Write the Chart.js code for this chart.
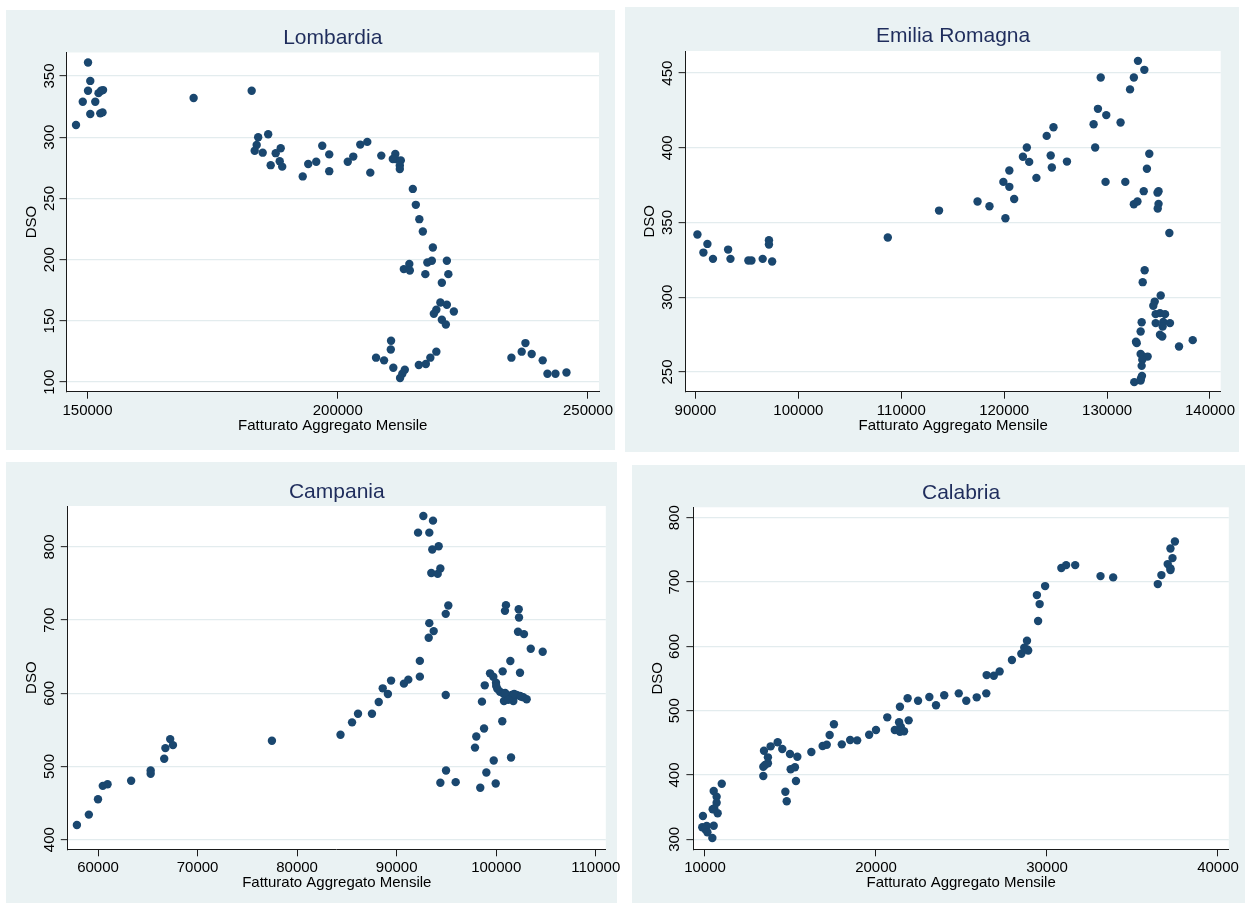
<!DOCTYPE html>
<html>
<head>
<meta charset="utf-8">
<title>DSO vs Fatturato Aggregato Mensile</title>
<script src="https://cdn.jsdelivr.net/npm/chart.js@4/dist/chart.umd.min.js"></script>
<style>
  html, body { margin: 0; padding: 0; background: #ffffff; }
  body { width: 1245px; height: 904px; position: relative; overflow: hidden; }
  canvas { position: absolute; }
</style>
</head>
<body>
<canvas id="lombardia"></canvas>
<canvas id="emilia"></canvas>
<canvas id="campania"></canvas>
<canvas id="calabria"></canvas>
<script>
// ---- Data: [fatturato aggregato mensile, DSO] per region ----
const lombardiaPoints = [
  [147700,310],[149050,329],[150100,361],[150100,338],[150550,346],[150550,319],
  [151550,329],[152200,336],[152700,338],[153100,338.5],[152550,319.5],[153000,320.3],
  [171200,332],[182800,338],
  [184100,300],[186100,302.4],[183800,293.7],[183400,289],[185000,287.4],[186600,277.2],
  [187600,287],[188600,291],[188400,280.4],[188900,276],
  [193000,268],[194100,278.2],[195700,280],[196900,293],[198300,286],[198300,272.3],
  [202000,280],[203100,284.2],[204500,294],[205900,296.2],[206500,271.1],[208700,285],
  [211500,286.3],[211500,282.2],[211000,282.2],[212600,281.1],[212400,277],[212400,274],
  [215000,257.8],[215600,244.8],[216300,233.1],[217000,223],[219000,209.9],
  [213200,192.3],[214300,196.5],[214400,191.2],[217900,197.7],[218800,199.1],[221800,199.1],
  [217500,188.2],[222100,188.2],[220800,181.2],
  [220500,165.1],[221800,163.2],[223200,157.7],[219700,159.1],[219200,155.9],[220800,151],[221600,147.1],
  [210650,133.8],[210600,126.7],[207650,120],[209250,117.8],[211100,111.8],[213400,110.2],
  [212900,106.9],[212450,103.4],[216200,114],[217600,114.8],[218500,120],[219700,124.9],
  [234700,120],[236750,124.9],[237500,131.9],[238750,123],[240950,117.8],[241900,106.9],
  [243500,106.9],[245700,107.9]
];
const lombardiaXTicks = [150000, 200000, 250000];
const lombardiaYTicks = [100, 150, 200, 250, 300, 350];

const emiliaPoints = [
  [90190,342],[90770,329.9],[91160,335.7],[91700,325.7],[93170,331.9],[93400,325.7],
  [95140,324.6],[95440,324.6],[96530,325.7],[97140,338.2],[97140,335.3],[97450,323.9],
  [108690,340],[113670,358],[117410,364.1],[118570,360.9],[119920,377.2],[120120,352.9],
  [120500,384.8],[120500,373.9],[120970,365.8],[121820,394],[122200,400.2],[122430,390.6],
  [123130,379.9],[124130,408],[124520,394.9],[124630,386.8],[124790,413.8],[126100,390.8],
  [128690,415.8],[128840,400.2],[129110,426.1],[129380,447.1],[129850,377.2],[129920,421.9],
  [131310,417],[131770,377.2],[132230,439.1],[132600,447.1],[133000,458.2],[133620,452.2],
  [132600,362.2],[132950,364.1],[133560,371],[133870,386],[134100,396],[134900,370],
  [135000,371],[135000,362.5],[134920,359.4],[136050,343],
  [133650,318.1],[133460,310.1],[135210,301.2],[134630,297.1],[134490,294.3],[134720,288.7],
  [135140,289.4],[135630,288.7],[133360,283.3],[134720,282.7],[135460,283.5],[136110,282.7],
  [135400,280.4],[133260,277.1],[135140,274.9],[135360,273.7],[132810,270.2],[132880,269.3],
  [136990,267],[138320,271.3],[133260,262],[133520,260.3],[133940,260.3],[133420,258.1],
  [133360,254.1],[133390,247.4],[133290,245.6],[132640,243.2],[133260,244.3]
];
const emiliaXTicks = [90000, 100000, 110000, 120000, 130000, 140000];
const emiliaYTicks = [250, 300, 350, 400, 450];

const campaniaPoints = [
  [57880,420.1],[59080,434.2],[60000,455.3],[60480,473.5],[60960,475.8],[63330,480.4],
  [65290,494.5],[65290,490],[66650,510.5],[66770,525.1],[67250,537.4],[67530,529.2],
  [77470,535.2],[84360,543.4],[85520,560.3],[86120,572.1],[87520,572.1],[88200,588.1],
  [88600,606.8],[89120,599.1],[89440,617.4],[90730,613.2],[91170,618.7],[92330,622.8],[92330,644.3],
  [92680,842.3],[93650,836],[92150,819.6],[93280,819.6],[94220,801],[93580,796.5],
  [94390,770.5],[93480,764.5],[94120,763.2],[95190,720.1],[94930,708.6],[93280,695.9],
  [93720,685],[93220,675.9],[94930,597.7],[94960,494.5],[94390,477.7],[95930,478.6],
  [100980,720.5],[100880,712.7],[102260,715],[102290,703.7],[102190,684.1],[102790,680.9],
  [103470,660.9],[104670,656.8],[101420,644.1],[100650,630],[102390,628.1],[99380,627.3],
  [99710,622.7],[99980,614.5],[100110,606.3],[98850,610.9],[100380,602.2],[100710,600],
  [101060,597.7],[101560,597.7],[102060,597.7],[102390,596.4],[102720,594.6],[103060,591.9],
  [100780,589.5],[101720,589.5],[98570,588.6],[100000,610],[100900,600.5],[101800,599],
  [102500,595.5],[101200,591],
  [100610,561.8],[98780,551.8],[98000,540.9],[97870,525.8],[99750,508.1],[101490,512.2],
  [99010,491.7],[98400,470.9],[99950,476.7]
];
const campaniaXTicks = [60000, 70000, 80000, 90000, 100000, 110000];
const campaniaYTicks = [400, 500, 600, 700, 800];

const calabriaPoints = [
  [9880,336.3],[9840,318.7],[10100,320.7],[10020,315.6],[10140,310.9],[10510,321.2],[10430,302],
  [10510,375.1],[10680,366.3],[10680,356.9],[10450,346.7],[10540,348.2],[10740,340.5],[10980,386.5],
  [13410,398.5],[13410,412.9],[13510,415.6],[13680,418.2],[13680,427.5],[13450,437.8],[13840,444.6],
  [14250,450.9],[14520,440.4],[14970,432.7],[15400,428.5],[15010,408.9],[15260,412],[15320,390.7],
  [14700,374],[14780,359.1],[16220,435.8],[16880,445.1],[17120,447.1],[17290,462.2],[17540,478.9],
  [18000,447.7],[18490,454.4],[18900,453.9],[19600,462.7],[20000,470],[20660,489.7],
  [21100,470],[21400,467.4],[21640,468],[21450,475],[21350,482],[21910,485],[21400,506.2],
  [21850,519.3],[22460,515.6],[23120,521.3],[23510,508.4],[23990,524],[24840,527],[25280,515.6],
  [25890,520.8],[26450,527],[26470,555.4],[26890,554.4],[27230,561.1],[27950,578.8],[28500,588.6],
  [28670,597.9],[28830,608.8],[28850,595.3],[28900,593.5],[29480,639.4],[29410,679.8],[29570,665.8],
  [29890,693.8],[30840,721.8],[31120,726.4],[31650,726.4],[33130,709.3],[33870,707.3],[36480,696.9],
  [36690,710.9],[37060,728],[37220,718.7],[37220,721.2],[37340,737.3],[37220,752.3],[37480,763.2]
];
const calabriaXTicks = [10000, 20000, 30000, 40000];
const calabriaYTicks = [300, 400, 500, 600, 700, 800];

const xAxisTitle = 'Fatturato Aggregato Mensile';
const yAxisTitle = 'DSO';

// ---- Styling ----
const FONT = "'Liberation Sans', Arial, Helvetica, sans-serif";
const BG = '#eaf2f3';
const GRID = '#e3ecee';
const NAVY = '#1a476f';
const TITLE_INK = '#1f2d5c';
const INK = '#000000';
const AXIS = '#1a1a1a';
const TICK_LEN = 7;
const LABEL_SIZE = 15;
const LABEL_LH = LABEL_SIZE * 1.2;
const TITLE_SIZE = 21;
const TITLE_LH = TITLE_SIZE * 1.2;

function textWidth(str, size) {
  const ctx = document.createElement('canvas').getContext('2d');
  ctx.font = size + 'px ' + FONT;
  return ctx.measureText(str).width;
}

// Panel background and white plot region
const panelBackground = {
  id: 'panelBackground',
  beforeDraw(chart, args, opts) {
    const {ctx, chartArea} = chart;
    ctx.save();
    ctx.fillStyle = BG;
    ctx.fillRect(0, 0, opts.w, opts.h);
    ctx.fillStyle = '#ffffff';
    ctx.fillRect(chartArea.left, chartArea.top, chartArea.right - chartArea.left, chartArea.bottom - chartArea.top);
    ctx.restore();
  }
};

function drawPanel(id, cfg) {
  const canvas = document.getElementById(id);
  const b = cfg.box;
  const cw = b.w + 14;
  canvas.width = cw;
  canvas.height = b.h;
  canvas.style.left = b.x + 'px';
  canvas.style.top = b.y + 'px';

  const aL = cfg.area.l - b.x;
  const aT = cfg.area.t - b.y;
  const aR = cfg.area.r - b.x;
  const aB = cfg.area.b - b.y;
  const tCY = cfg.titleY - b.y;
  const yLabelW = Math.max(...cfg.yTicks.map(v => textWidth(String(v), LABEL_SIZE)));
  const labelFont = {family: FONT, size: LABEL_SIZE, lineHeight: 1.2};

  return new Chart(canvas, {
    type: 'scatter',
    data: {
      datasets: [{
        data: cfg.points.map(p => ({x: p[0], y: p[1]})),
        backgroundColor: NAVY,
        borderWidth: 0,
        pointRadius: 4.2,
        pointHoverRadius: 4.2
      }]
    },
    options: {
      responsive: false,
      maintainAspectRatio: false,
      animation: false,
      devicePixelRatio: 1,
      events: [],
      layout: {
        autoPadding: false,
        padding: {left: 0, top: 0, right: cw - aR, bottom: 0}
      },
      plugins: {
        legend: {display: false},
        tooltip: {enabled: false},
        panelBackground: {w: b.w, h: b.h},
        title: {
          display: true,
          text: cfg.title,
          fullSize: false,
          color: TITLE_INK,
          font: {family: FONT, size: TITLE_SIZE, weight: 'normal', lineHeight: 1.2},
          padding: {top: tCY - TITLE_LH / 2, bottom: aT - tCY - TITLE_LH / 2}
        }
      },
      scales: {
        x: {
          type: 'linear',
          position: 'bottom',
          bounds: 'data',
          min: cfg.xRange[0],
          max: cfg.xRange[1],
          afterBuildTicks: s => { s.ticks = cfg.xTicks.map(v => ({value: v})); },
          afterFit: s => { s.height = b.h - aB; },
          grid: {drawOnChartArea: false, drawTicks: true, tickLength: TICK_LEN, tickColor: AXIS, tickWidth: 1},
          border: {display: true, color: AXIS, width: 1},
          ticks: {
            autoSkip: false, minRotation: 0, maxRotation: 0,
            color: INK, font: labelFont,
            padding: (cfg.xTickY - cfg.area.b) - LABEL_LH / 2 - TICK_LEN,
            callback: v => String(v)
          },
          title: {
            display: true, text: xAxisTitle, color: INK, font: labelFont,
            padding: {top: 0, bottom: b.h - (cfg.xTitleY - b.y) - LABEL_LH / 2}
          }
        },
        y: {
          type: 'linear',
          position: 'left',
          bounds: 'data',
          min: cfg.yRange[0],
          max: cfg.yRange[1],
          afterBuildTicks: s => { s.ticks = cfg.yTicks.map(v => ({value: v})); },
          afterFit: s => { s.width = aL; },
          grid: {drawOnChartArea: true, color: GRID, lineWidth: 1.3, drawTicks: true, tickLength: TICK_LEN, tickColor: AXIS, tickWidth: 1},
          border: {display: true, color: AXIS, width: 1},
          ticks: {
            autoSkip: false, minRotation: 90, maxRotation: 90, crossAlign: 'center',
            color: INK, font: labelFont,
            padding: aL - (cfg.yTickX - b.x) - yLabelW / 2 - TICK_LEN,
            callback: v => String(v)
          },
          title: {
            display: true, text: yAxisTitle, color: INK, font: labelFont,
            padding: {top: (cfg.yTitleX - b.x) - LABEL_LH / 2, bottom: 0}
          }
        }
      }
    },
    plugins: [panelBackground]
  });
}

drawPanel('lombardia', {
  title: 'Lombardia', points: lombardiaPoints, xTicks: lombardiaXTicks, yTicks: lombardiaYTicks,
  box: {x: 6, y: 10, w: 609, h: 440},
  area: {l: 66.5, t: 52.5, r: 599, b: 391.7},
  titleY: 38.3, yTitleX: 31.6, yTickX: 49.4, xTickY: 411, xTitleY: 426,
  xRange: [145800, 252200], yRange: [92.2, 369.2]
});
drawPanel('emilia', {
  title: 'Emilia Romagna', points: emiliaPoints, xTicks: emiliaXTicks, yTicks: emiliaYTicks,
  box: {x: 625, y: 7, w: 614, h: 445},
  area: {l: 685.6, t: 51, r: 1220.7, b: 391.7},
  titleY: 36.7, yTitleX: 649.8, yTickX: 667.7, xTickY: 411, xTitleY: 426,
  xRange: [89040, 141040], yRange: [236.8, 464.8]
});
drawPanel('campania', {
  title: 'Campania', points: campaniaPoints, xTicks: campaniaXTicks, yTicks: campaniaYTicks,
  box: {x: 6, y: 462, w: 611, h: 441},
  area: {l: 67.8, t: 506, r: 605.8, b: 849.3},
  titleY: 491.8, yTitleX: 31.9, yTickX: 49.8, xTickY: 868.3, xTitleY: 882.7,
  xRange: [56966, 111009], yRange: [386.8, 856]
});
drawPanel('calabria', {
  title: 'Calabria', points: calabriaPoints, xTicks: calabriaXTicks, yTicks: calabriaYTicks,
  box: {x: 632, y: 465, w: 613, h: 438},
  area: {l: 693.4, t: 507.3, r: 1228.8, b: 849.3},
  titleY: 492.8, yTitleX: 657.4, yTickX: 674.4, xTickY: 868.3, xTitleY: 882.7,
  xRange: [9322, 40632], yRange: [284.5, 816.3]
});
</script>
</body>
</html>
